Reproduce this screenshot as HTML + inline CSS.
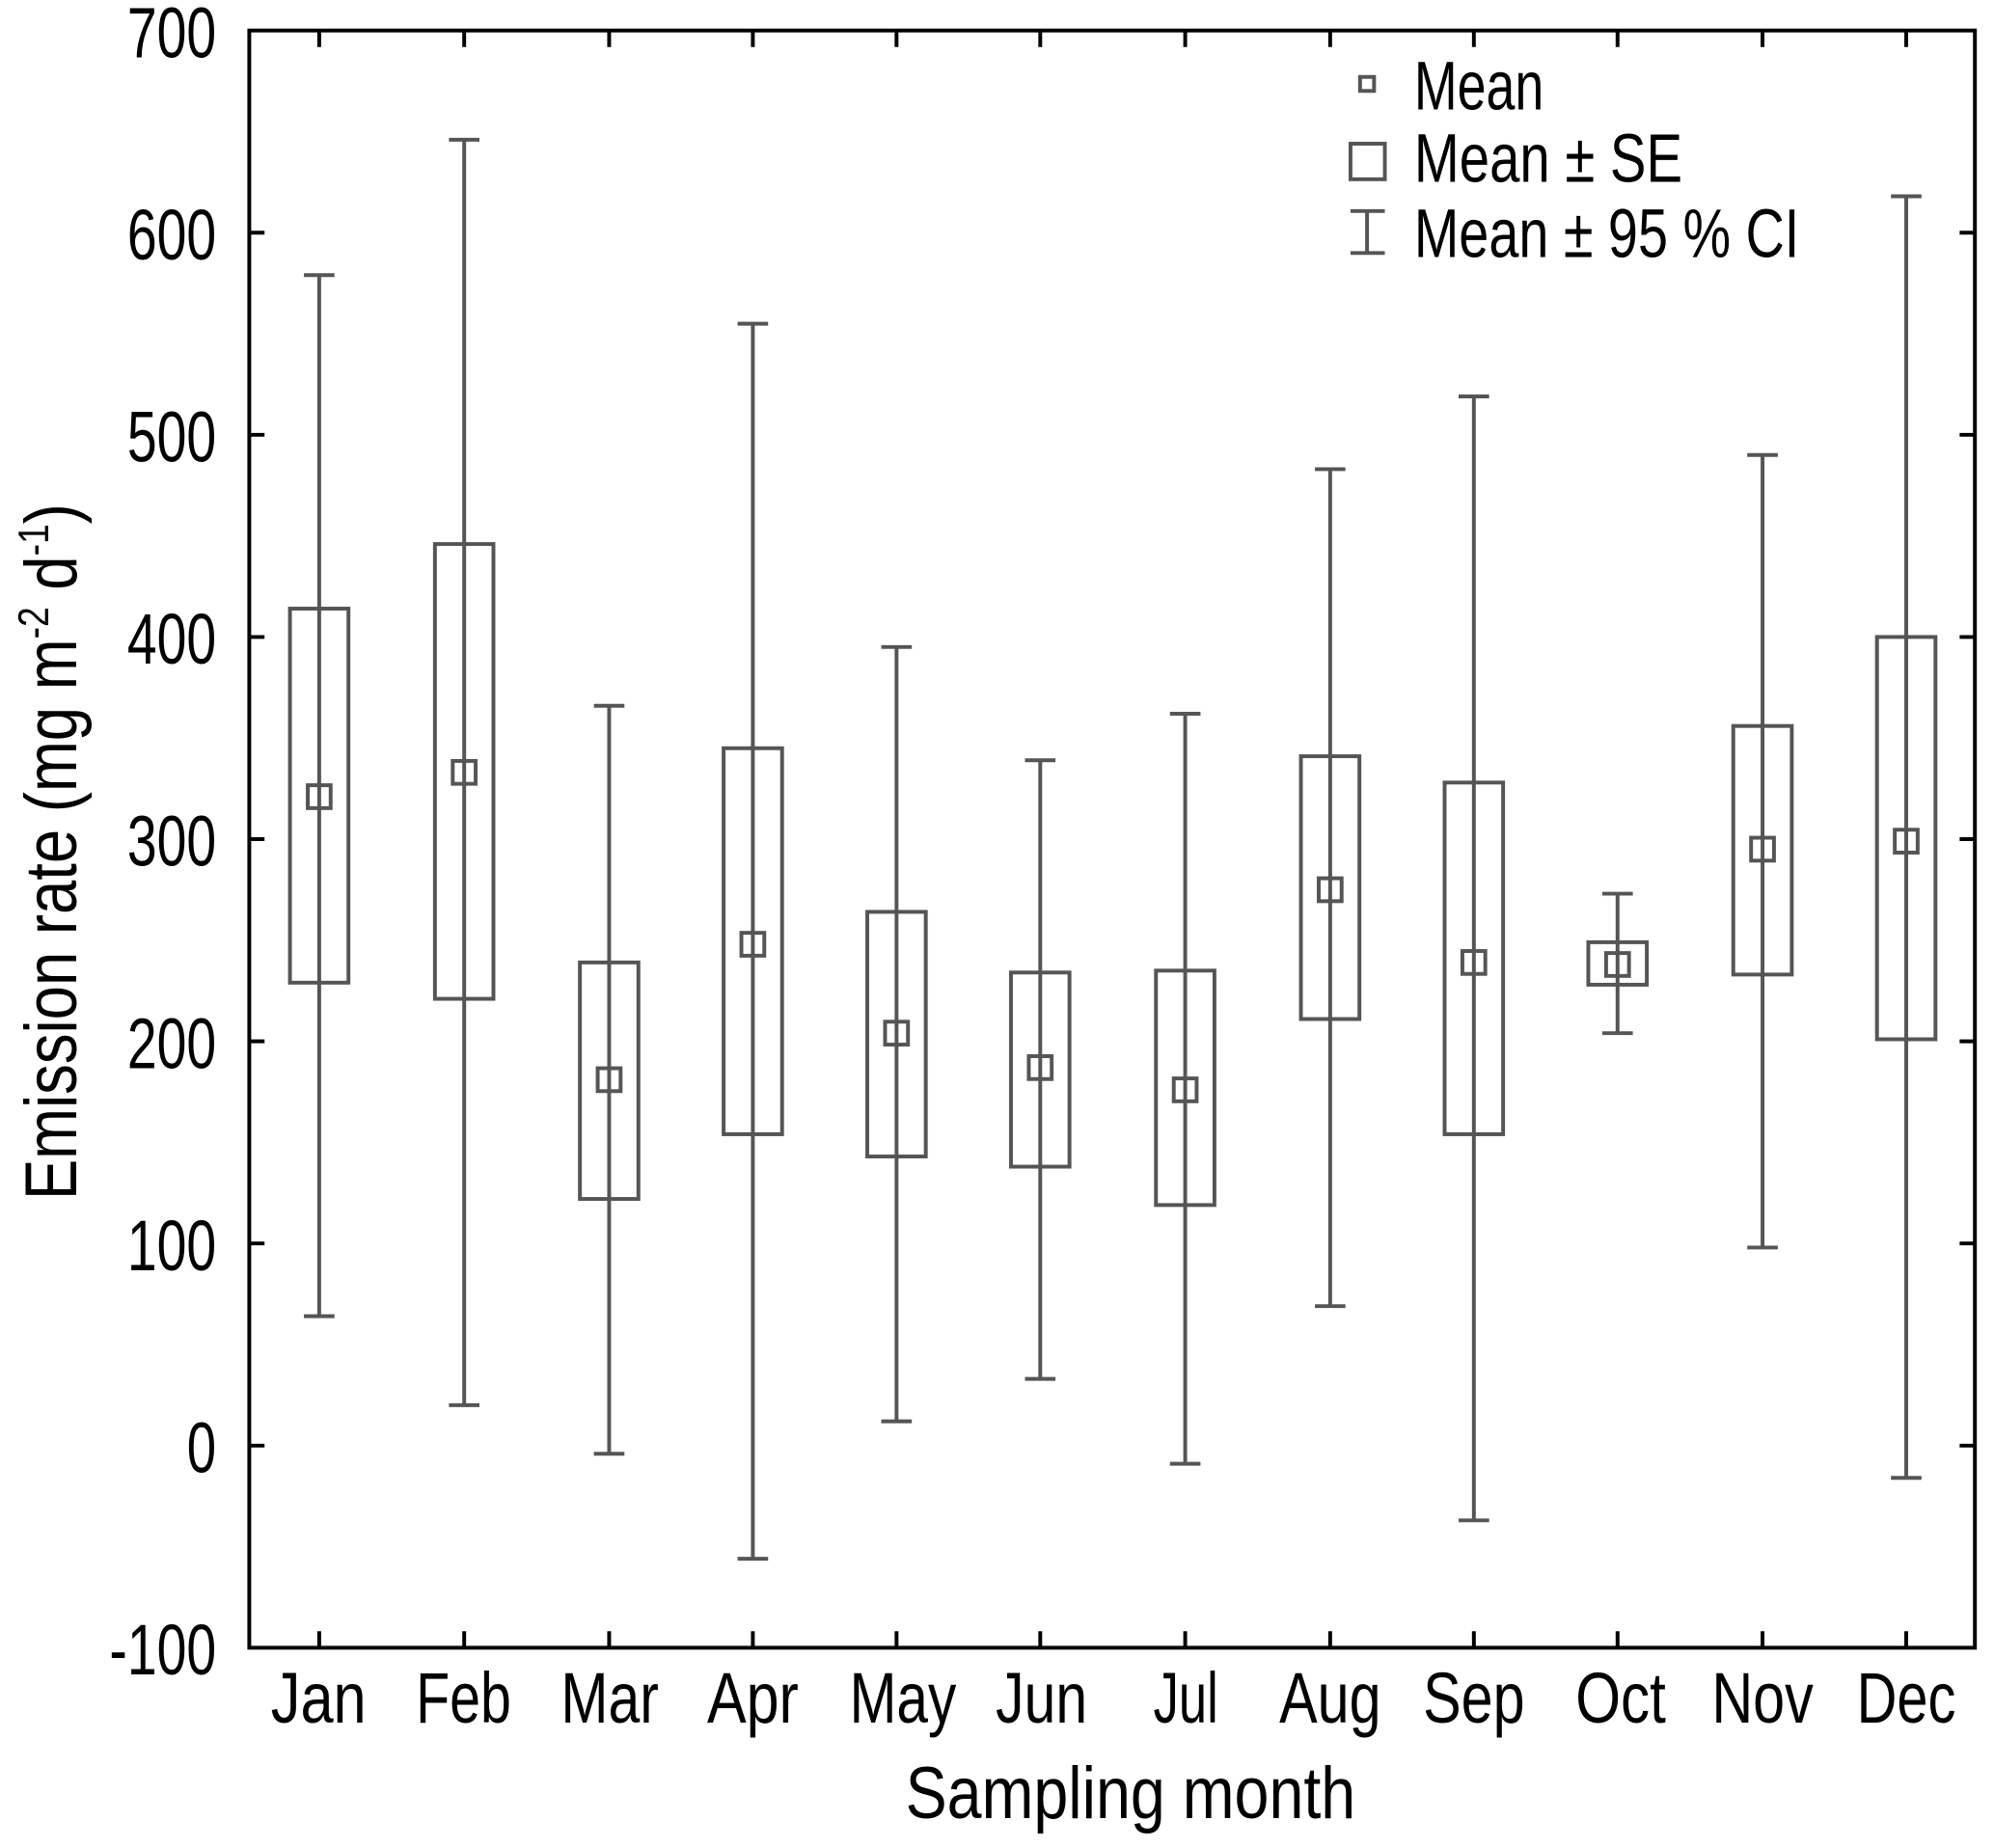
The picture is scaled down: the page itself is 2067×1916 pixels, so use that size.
<!DOCTYPE html>
<html><head><meta charset="utf-8"><style>
html,body{margin:0;padding:0;background:#fff}
svg{display:block}
text{font-family:"Liberation Sans",sans-serif;fill:#000}
</style></head><body>
<svg width="2067" height="1916" viewBox="0 0 1568 1453.5" xmlns="http://www.w3.org/2000/svg">
<rect x="0" y="0" width="1568" height="1453.5" fill="#fff"/>
<rect x="196" y="24" width="1357" height="1272" fill="none" stroke="#000" stroke-width="3"/>
<g stroke="#000" stroke-width="3">
<path d="M196 183.0h12M196 342.0h12M196 501.0h12M196 660.0h12M196 819.0h12M196 978.0h12M196 1137.0h12"/>
<path d="M1553 183.0h-12M1553 342.0h-12M1553 501.0h-12M1553 660.0h-12M1553 819.0h-12M1553 978.0h-12M1553 1137.0h-12"/>
<path d="M251 1296v-13M365 1296v-13M479 1296v-13M592 1296v-13M705 1296v-13M818 1296v-13M932 1296v-13M1046 1296v-13M1159 1296v-13M1272 1296v-13M1386 1296v-13M1499 1296v-13"/>
<path d="M251 24v13M365 24v13M479 24v13M592 24v13M705 24v13M818 24v13M932 24v13M1046 24v13M1159 24v13M1272 24v13M1386 24v13M1499 24v13"/>
</g>
<g font-size="56" lengthAdjust="spacingAndGlyphs">
<text x="100" y="45" textLength="70" lengthAdjust="spacingAndGlyphs">700</text>
<text x="100" y="204" textLength="70" lengthAdjust="spacingAndGlyphs">600</text>
<text x="100" y="363" textLength="70" lengthAdjust="spacingAndGlyphs">500</text>
<text x="100" y="522" textLength="70" lengthAdjust="spacingAndGlyphs">400</text>
<text x="100" y="681" textLength="70" lengthAdjust="spacingAndGlyphs">300</text>
<text x="100" y="840" textLength="70" lengthAdjust="spacingAndGlyphs">200</text>
<text x="100" y="999" textLength="70" lengthAdjust="spacingAndGlyphs">100</text>
<text x="147" y="1158" textLength="23" lengthAdjust="spacingAndGlyphs">0</text>
<text x="86" y="1317" textLength="84" lengthAdjust="spacingAndGlyphs">-100</text>
</g>
<g font-size="56">
<text x="213" y="1355" textLength="75" lengthAdjust="spacingAndGlyphs">Jan</text>
<text x="327" y="1355" textLength="75" lengthAdjust="spacingAndGlyphs">Feb</text>
<text x="441" y="1355" textLength="77" lengthAdjust="spacingAndGlyphs">Mar</text>
<text x="556" y="1355" textLength="72" lengthAdjust="spacingAndGlyphs">Apr</text>
<text x="668" y="1355" textLength="84" lengthAdjust="spacingAndGlyphs">May</text>
<text x="783" y="1355" textLength="72" lengthAdjust="spacingAndGlyphs">Jun</text>
<text x="907" y="1355" textLength="51" lengthAdjust="spacingAndGlyphs">Jul</text>
<text x="1006" y="1355" textLength="80" lengthAdjust="spacingAndGlyphs">Aug</text>
<text x="1119" y="1355" textLength="80" lengthAdjust="spacingAndGlyphs">Sep</text>
<text x="1239" y="1355" textLength="71" lengthAdjust="spacingAndGlyphs">Oct</text>
<text x="1346" y="1355" textLength="80" lengthAdjust="spacingAndGlyphs">Nov</text>
<text x="1460" y="1355" textLength="78" lengthAdjust="spacingAndGlyphs">Dec</text>
</g>
<text x="712" y="1430" font-size="58" textLength="354" lengthAdjust="spacingAndGlyphs">Sampling month</text>
<g transform="translate(60,670) rotate(-90) scale(0.83,1)">
<text x="0" y="0" font-size="58" text-anchor="middle">Emission rate (mg m<tspan font-size="34" dy="-22">-2</tspan><tspan dy="22"> d</tspan><tspan font-size="34" dy="-22">-1</tspan><tspan dy="22">)</tspan></text>
</g>

<g stroke="#555" stroke-width="3" fill="none">
<path d="M251 216.4V1035.2M239 216.4h24M239 1035.2h24"/><rect x="228" y="478.7" width="46" height="294.2"/><rect x="242" y="617.6" width="18" height="18"/>
<path d="M365 109.9V1105.2M353 109.9h24M353 1105.2h24"/><rect x="342" y="427.9" width="46" height="357.7"/><rect x="356" y="598.5" width="18" height="18"/>
<path d="M479 555.1V1143.4M467 555.1h24M467 1143.4h24"/><rect x="456" y="757.0" width="46" height="186.0"/><rect x="470" y="840.2" width="18" height="18"/>
<path d="M592 254.6V1226.0M580 254.6h24M580 1226.0h24"/><rect x="569" y="588.5" width="46" height="303.6"/><rect x="583" y="733.7" width="18" height="18"/>
<path d="M705 508.9V1117.9M693 508.9h24M693 1117.9h24"/><rect x="682" y="717.2" width="46" height="192.4"/><rect x="696" y="803.6" width="18" height="18"/>
<path d="M818 598.0V1084.5M806 598.0h24M806 1084.5h24"/><rect x="795" y="764.9" width="46" height="152.7"/><rect x="809" y="830.7" width="18" height="18"/>
<path d="M932 561.4V1151.3M920 561.4h24M920 1151.3h24"/><rect x="909" y="763.4" width="46" height="184.4"/><rect x="923" y="848.2" width="18" height="18"/>
<path d="M1046 369.0V1027.3M1034 369.0h24M1034 1027.3h24"/><rect x="1023" y="594.8" width="46" height="206.7"/><rect x="1037" y="690.8" width="18" height="18"/>
<path d="M1159 311.8V1195.8M1147 311.8h24M1147 1195.8h24"/><rect x="1136" y="615.5" width="46" height="276.6"/><rect x="1150" y="748.0" width="18" height="18"/>
<path d="M1272 702.9V812.6M1260 702.9h24M1260 812.6h24"/><rect x="1249" y="741.1" width="46" height="33.4"/><rect x="1263" y="749.6" width="18" height="18"/>
<path d="M1386 357.9V981.2M1374 357.9h24M1374 981.2h24"/><rect x="1363" y="571.0" width="46" height="195.5"/><rect x="1377" y="658.9" width="18" height="18"/>
<path d="M1499 154.4V1162.4M1487 154.4h24M1487 1162.4h24"/><rect x="1476" y="501.0" width="46" height="316.4"/><rect x="1490" y="652.6" width="18" height="18"/>

<rect x="1069.5" y="60.5" width="11" height="11"/>
<rect x="1062" y="113" width="27" height="28"/>
<path d="M1075 166V199M1062 166h27M1062 199h27"/>
</g>
<g font-size="54">
<text x="1112" y="86" textLength="102" lengthAdjust="spacingAndGlyphs">Mean</text>
<text x="1112" y="143" textLength="211" lengthAdjust="spacingAndGlyphs">Mean ± SE</text>
<text x="1112" y="202" textLength="303" lengthAdjust="spacingAndGlyphs">Mean ± 95 % CI</text>
</g>
</svg>
</body></html>
